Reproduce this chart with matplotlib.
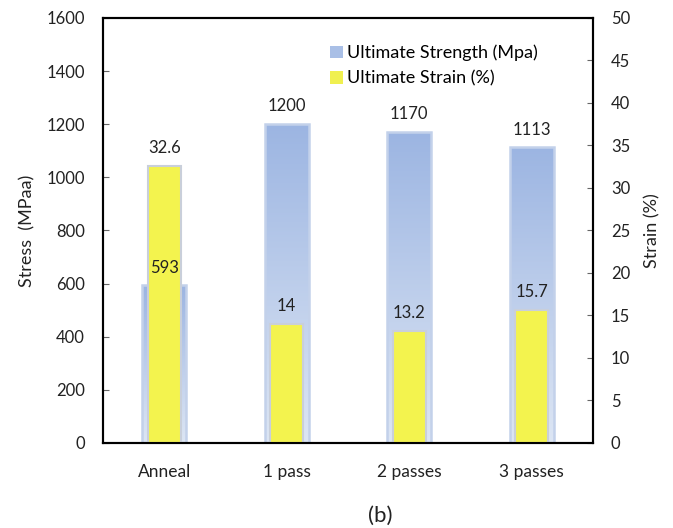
import numpy as np
import matplotlib
matplotlib.use("Agg")
import matplotlib.pyplot as plt
from matplotlib.colors import LinearSegmentedColormap
from matplotlib.patches import Patch

plt.rcParams['font.family'] = ['Lato', 'DejaVu Sans']

# data
categories = ['Anneal', '1 pass', '2 passes', '3 passes']
strength = [593, 1200, 1170, 1113]        # MPa, left axis
strain = [32.6, 14, 13.2, 15.7]           # %, right axis
strength_labels = ['593', '1200', '1170', '1113']
strain_labels = ['32.6', '14', '13.2', '15.7']

fig = plt.figure(figsize=(6.73, 5.28), dpi=100)
ax = fig.add_axes([0.153, 0.161, 0.728, 0.805])
ax2 = ax.twinx()

x = np.arange(len(categories))
bw, yw = 0.36, 0.27

blue_cmap = LinearSegmentedColormap.from_list('bl', ['#dde6f4', '#9cb5e2'])
bars = ax.bar(x, strength, width=bw, color='none', edgecolor='#c3d1ea', linewidth=1.8, zorder=2)
grad = np.linspace(0, 1, 256).reshape(-1, 1)
for b in bars:
    x0, y0 = b.get_x(), b.get_y()
    im = ax.imshow(grad, cmap=blue_cmap, aspect='auto', origin='lower',
                   extent=[x0, x0 + b.get_width(), y0, y0 + b.get_height()], zorder=1)
    im.set_clip_path(b)

ax.set_xlim(-0.5, 3.5)
ax.set_ylim(0, 1600)
ax.set_yticks(range(0, 1601, 200))
ax.set_xticks(x)
ax.set_xticklabels(categories)
ax.set_ylabel('Stress  (MPaa)', fontsize=13, color='#222222', labelpad=8)

ax2.bar(x, strain, width=yw, color='#f3f34e', edgecolor='#c9cfda', linewidth=1.5, zorder=2)
ax2.set_ylim(0, 50)
ax2.set_yticks(range(0, 51, 5))
ax2.set_ylabel('Strain (%)', fontsize=13, color='#222222', labelpad=10)

# value labels (all on ax2 so they sit over the yellow bars)
for xi, v, s in zip(x, strength, strength_labels):
    ax2.annotate(s, (xi, v), xycoords=ax.transData, xytext=(0, 7), textcoords='offset points',
                 ha='center', va='bottom', fontsize=12, color='#222222', zorder=5)
for xi, v, s in zip(x, strain, strain_labels):
    ax2.annotate(s, (xi, v), xytext=(0, 7), textcoords='offset points',
                 ha='center', va='bottom', fontsize=12, color='#222222', zorder=5)

for a in (ax, ax2):
    for sp in a.spines.values():
        sp.set_linewidth(1.5)
        sp.set_color('black')
    a.tick_params(axis='y', direction='in', length=4, width=0.8, color='#666666',
                  labelsize=12, labelcolor='#222222', pad=13)
ax.tick_params(axis='x', length=0, labelsize=12.5, labelcolor='#222222', pad=15)

handles = [Patch(facecolor='#a9bfe6', edgecolor='none', label='Ultimate Strength (Mpa)'),
           Patch(facecolor='#f0f050', edgecolor='none', label='Ultimate Strain (%)')]
ax2.legend(handles=handles, loc='upper left', bbox_to_anchor=(0.43, 0.975), frameon=False,
           fontsize=13, handlelength=0.7, handleheight=0.7, handletextpad=0.25,
           labelspacing=0.5)

fig.text(0.565, 0.005, '(b)', ha='center', va='bottom', fontsize=16, color='#222222')

fig.savefig('out.png', dpi=100)
